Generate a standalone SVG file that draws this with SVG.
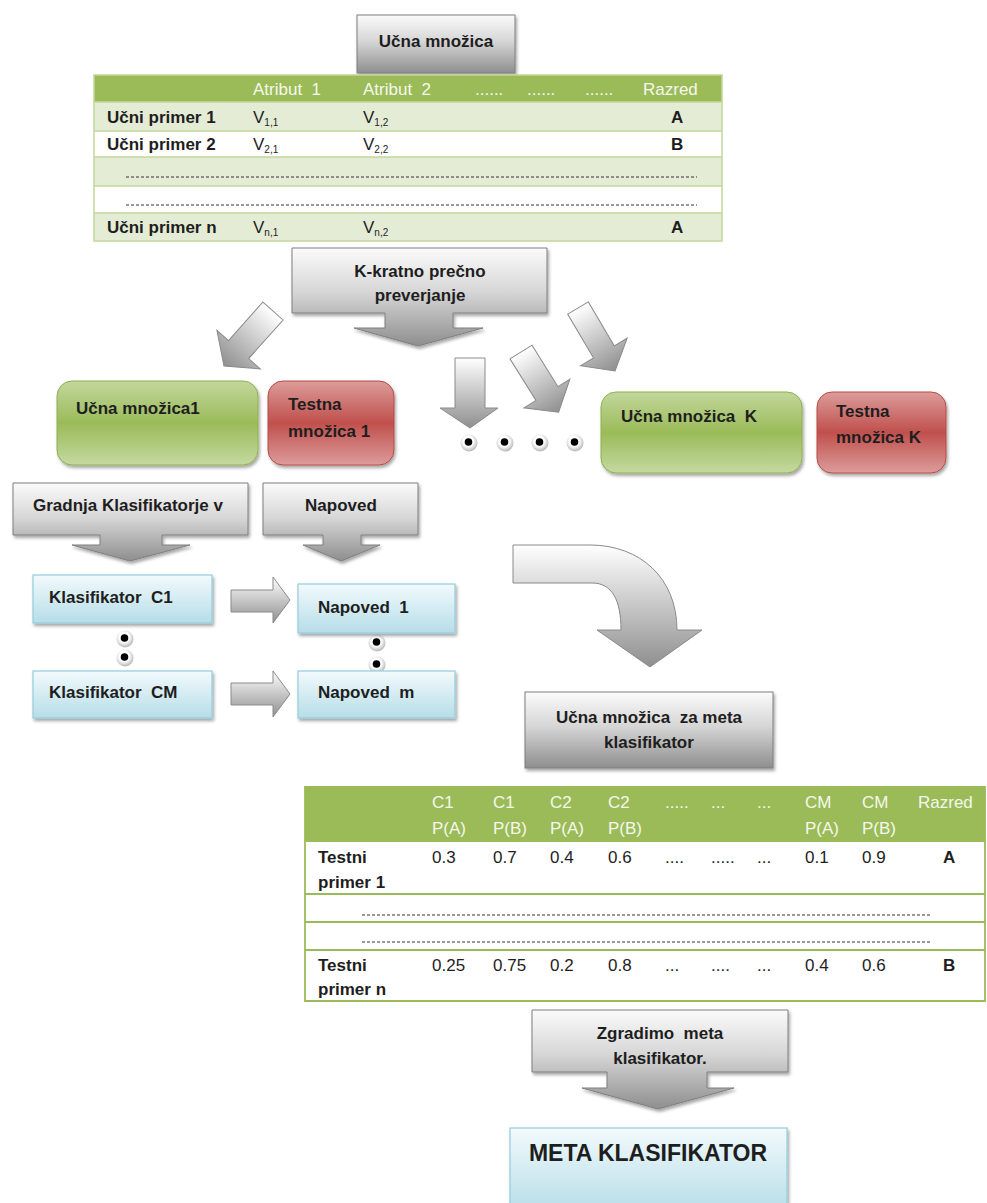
<svg xmlns="http://www.w3.org/2000/svg" width="987" height="1203" viewBox="0 0 987 1203">
<defs>
<style>
text{font-family:"Liberation Sans",Arial,sans-serif;font-size:17px;fill:#1e1e1e;white-space:pre}
.b{font-weight:bold}
.h{fill:#f4f8ec}
.c{text-anchor:middle}
.gbox{fill:url(#gray);stroke:#7f7f7f;stroke-width:1;filter:url(#sh)}
.arr{fill:url(#agr);stroke:#8a8a8a;stroke-width:1}
.grn{fill:url(#green);stroke:#8fb04f;stroke-width:1;filter:url(#sh)}
.red{fill:url(#red);stroke:#b84a47;stroke-width:1;filter:url(#sh)}
.blu{fill:url(#blue);stroke:#93cddd;stroke-width:1.2;filter:url(#sh)}
.dot{stroke:#333;stroke-width:1;stroke-dasharray:3 2}
.t1{stroke:#c3d69b;stroke-width:1.5;fill:none}
.t2{stroke:#9bbb59;stroke-width:1.8;fill:none}
</style>
<filter id="sh" x="-10%" y="-10%" width="125%" height="135%">
<feDropShadow dx="1.5" dy="2.5" stdDeviation="1.5" flood-color="#000" flood-opacity="0.35"/>
</filter>
<linearGradient id="gray" x1="0" y1="0" x2="0" y2="1">
<stop offset="0" stop-color="#fbfbfb"/><stop offset="0.45" stop-color="#d6d6d6"/><stop offset="1" stop-color="#8e8e8e"/>
</linearGradient>
<linearGradient id="agr" x1="0" y1="0" x2="0" y2="1">
<stop offset="0" stop-color="#ffffff"/><stop offset="1" stop-color="#8f8f8f"/>
</linearGradient>
<linearGradient id="green" x1="0" y1="0" x2="0" y2="1">
<stop offset="0" stop-color="#c2d79c"/><stop offset="0.5" stop-color="#9bbb59"/><stop offset="1" stop-color="#c4d9a0"/>
</linearGradient>
<linearGradient id="red" x1="0" y1="0" x2="0" y2="1">
<stop offset="0" stop-color="#dc9c9a"/><stop offset="0.5" stop-color="#c0504d"/><stop offset="1" stop-color="#dc9c9a"/>
</linearGradient>
<linearGradient id="blue" x1="0" y1="0" x2="0" y2="1">
<stop offset="0" stop-color="#f2fafc"/><stop offset="1" stop-color="#b6dde8"/>
</linearGradient>
<radialGradient id="ball" cx="0.45" cy="0.4" r="0.6">
<stop offset="0.5" stop-color="#ffffff"/><stop offset="1" stop-color="#b5b5b5"/>
</radialGradient>
<g id="bd"><circle r="8.5" fill="url(#ball)"/><circle cx="-0.5" cy="-1" r="3.8" fill="#000"/></g>
</defs>
<rect width="987" height="1203" fill="#fff"/>

<g id="connectors">
<path class="arr" transform="translate(273,311) rotate(41.7)" d="M-13.5,0 H13.5 V51.7 H29 L0,73.7 L-29,51.7 H-13.5 Z"/>
<path class="arr" transform="translate(521,352) rotate(-32)" d="M-13,0 H13 V49 H27 L0,71 L-27,49 H-13 Z"/>
<path class="arr" transform="translate(578,308) rotate(-30.5)" d="M-12,0 H12 V51 H27 L0,73 L-27,51 H-12 Z"/>
<path class="arr" d="M455,358 H485 V408 H498 L470,428 L440,408 H455 Z"/>
<path class="arr" d="M231,590 H273 V577 L290,600 L273,623 V612 H231 Z"/>
<path class="arr" d="M231,683 H273 V671 L290,694 L273,717 V705 H231 Z"/>
<path class="arr" d="M513,545 H590 C640,545 677,578 677,630 H702 L650,667 L597,630 H621 C621,600 612,583 592,583 H513 Z"/>
<g id="dots">
<use href="#bd" x="469" y="443"/><use href="#bd" x="505" y="443"/><use href="#bd" x="540" y="443"/><use href="#bd" x="575" y="443"/>
<use href="#bd" x="125" y="639"/><use href="#bd" x="125" y="658"/>
<use href="#bd" x="377" y="643"/><use href="#bd" x="377" y="665"/>
</g>
</g>

<g id="ucna-mnozica">
<rect class="gbox" x="357" y="15" width="158" height="58"/>
<text class="b c" x="436" y="47">Učna množica</text>
</g>

<g id="tabela-ucna">
<rect x="94" y="75" width="628" height="27" fill="#9bbb59"/>
<rect x="94" y="102" width="628" height="29" fill="#e4ecd5"/>
<rect x="94" y="131" width="628" height="26" fill="#fff"/>
<rect x="94" y="157" width="628" height="29" fill="#e4ecd5"/>
<rect x="94" y="186" width="628" height="27" fill="#fff"/>
<rect x="94" y="213" width="628" height="28" fill="#e4ecd5"/>
<path class="t1" d="M94,75 H722 V241 H94 Z M94,102 H722 M94,131 H722 M94,157 H722 M94,186 H722 M94,213 H722"/>
<text class="h" x="253" y="95">Atribut  1</text>
<text class="h" x="363" y="95">Atribut  2</text>
<text class="h" x="475" y="95">......</text>
<text class="h" x="527" y="95">......</text>
<text class="h" x="585" y="95">......</text>
<text class="h" x="643" y="95">Razred</text>
<text class="b" x="107" y="123">Učni primer 1</text>
<text x="253" y="123">V<tspan style="font-size:10px" dy="3">1,1</tspan></text>
<text x="363" y="123">V<tspan style="font-size:10px" dy="3">1,2</tspan></text>
<text class="b" x="671" y="123">A</text>
<text class="b" x="107" y="150">Učni primer 2</text>
<text x="253" y="150">V<tspan style="font-size:10px" dy="3">2,1</tspan></text>
<text x="363" y="150">V<tspan style="font-size:10px" dy="3">2,2</tspan></text>
<text class="b" x="671" y="150">B</text>
<line class="dot" x1="126" y1="177" x2="697" y2="177"/>
<line class="dot" x1="126" y1="205" x2="697" y2="205"/>
<text class="b" x="107" y="233">Učni primer n</text>
<text x="253" y="233">V<tspan style="font-size:10px" dy="3">n,1</tspan></text>
<text x="363" y="233">V<tspan style="font-size:10px" dy="3">n,2</tspan></text>
<text class="b" x="671" y="233">A</text>
</g>

<g id="k-kratno">
<path class="gbox" d="M292,248 H547 V313 H453 V328 H483 L418,346 L354,328 H385 V313 H292 Z"/>
<text class="b c" x="420" y="277">K-kratno prečno</text>
<text class="b c" x="420" y="301">preverjanje</text>
</g>

<g id="ucna-mnozica-1">
<rect class="grn" x="57" y="381" width="201" height="84" rx="15"/>
<text class="b" x="76" y="414">Učna množica1</text>
</g>
<g id="testna-mnozica-1">
<rect class="red" x="268" y="381" width="126" height="84" rx="15"/>
<text class="b" x="288" y="410">Testna</text>
<text class="b" x="288" y="437">množica 1</text>
</g>
<g id="ucna-mnozica-k">
<rect class="grn" x="601" y="392" width="201" height="81" rx="15"/>
<text class="b" x="621" y="422">Učna množica  K</text>
</g>
<g id="testna-mnozica-k">
<rect class="red" x="817" y="392" width="129" height="81" rx="15"/>
<text class="b" x="836" y="417">Testna</text>
<text class="b" x="836" y="443">množica K</text>
</g>

<g id="gradnja">
<path class="gbox" d="M13,483 H248 V535 H162 V545 H190 L130,561 L72,545 H100 V535 H13 Z"/>
<text class="b" x="33" y="511">Gradnja Klasifikatorje v</text>
</g>
<g id="napoved">
<path class="gbox" d="M263,483 H418 V535 H361 V545 H380 L341,561 L303,545 H323 V535 H263 Z"/>
<text class="b c" x="341" y="511">Napoved</text>
</g>

<g id="klasifikator-c1">
<rect class="blu" x="33" y="575" width="179" height="48"/>
<text class="b" x="49" y="603">Klasifikator  C1</text>
</g>
<g id="klasifikator-cm">
<rect class="blu" x="33" y="671" width="179" height="47"/>
<text class="b" x="49" y="698">Klasifikator  CM</text>
</g>
<g id="napoved-1">
<rect class="blu" x="298" y="584" width="157" height="49"/>
<text class="b" x="318" y="613">Napoved  1</text>
</g>
<g id="napoved-m">
<rect class="blu" x="298" y="671" width="157" height="47"/>
<text class="b" x="318" y="698">Napoved  m</text>
</g>

<g id="ucna-meta">
<rect class="gbox" x="525" y="692" width="248" height="76"/>
<text class="b c" x="649" y="723">Učna množica  za meta</text>
<text class="b c" x="649" y="748">klasifikator</text>
</g>

<g id="tabela-meta">
<rect x="305" y="787" width="680" height="54" fill="#9bbb59"/>
<rect x="305" y="841" width="680" height="160" fill="#fff"/>
<path class="t2" d="M305,787 H985 V1001 H305 Z M305,841 H985 M305,894 H985 M305,922 H985 M305,950 H985"/>
<text class="h" x="432" y="808">C1</text><text class="h" x="432" y="834">P(A)</text>
<text class="h" x="493" y="808">C1</text><text class="h" x="493" y="834">P(B)</text>
<text class="h" x="550" y="808">C2</text><text class="h" x="550" y="834">P(A)</text>
<text class="h" x="608" y="808">C2</text><text class="h" x="608" y="834">P(B)</text>
<text class="h" x="665" y="808">.....</text>
<text class="h" x="711" y="808">...</text>
<text class="h" x="757" y="808">...</text>
<text class="h" x="805" y="808">CM</text><text class="h" x="805" y="834">P(A)</text>
<text class="h" x="862" y="808">CM</text><text class="h" x="862" y="834">P(B)</text>
<text class="h" x="918" y="808">Razred</text>
<text class="b" x="318" y="863">Testni</text>
<text class="b" x="318" y="888">primer 1</text>
<text x="432" y="863">0.3</text>
<text x="493" y="863">0.7</text>
<text x="550" y="863">0.4</text>
<text x="608" y="863">0.6</text>
<text x="665" y="863">....</text>
<text x="711" y="863">.....</text>
<text x="757" y="863">...</text>
<text x="805" y="863">0.1</text>
<text x="862" y="863">0.9</text>
<text class="b" x="943" y="863">A</text>
<line class="dot" x1="362" y1="915" x2="932" y2="915"/>
<line class="dot" x1="362" y1="942" x2="932" y2="942"/>
<text class="b" x="318" y="971">Testni</text>
<text class="b" x="318" y="995">primer n</text>
<text x="432" y="971">0.25</text>
<text x="493" y="971">0.75</text>
<text x="550" y="971">0.2</text>
<text x="608" y="971">0.8</text>
<text x="665" y="971">...</text>
<text x="711" y="971">....</text>
<text x="757" y="971">...</text>
<text x="805" y="971">0.4</text>
<text x="862" y="971">0.6</text>
<text class="b" x="943" y="971">B</text>
</g>

<g id="zgradimo">
<path class="gbox" d="M532,1010 H788 V1072 H707 V1088 H734 L658,1109 L582,1088 H607 V1072 H532 Z"/>
<text class="b c" x="660" y="1039">Zgradimo  meta</text>
<text class="b c" x="660" y="1064">klasifikator.</text>
</g>

<g id="meta-klasifikator">
<rect class="blu" x="510" y="1128" width="277" height="85"/>
<text class="b c" x="648" y="1161" style="font-size:23px">META KLASIFIKATOR</text>
</g>
</svg>
